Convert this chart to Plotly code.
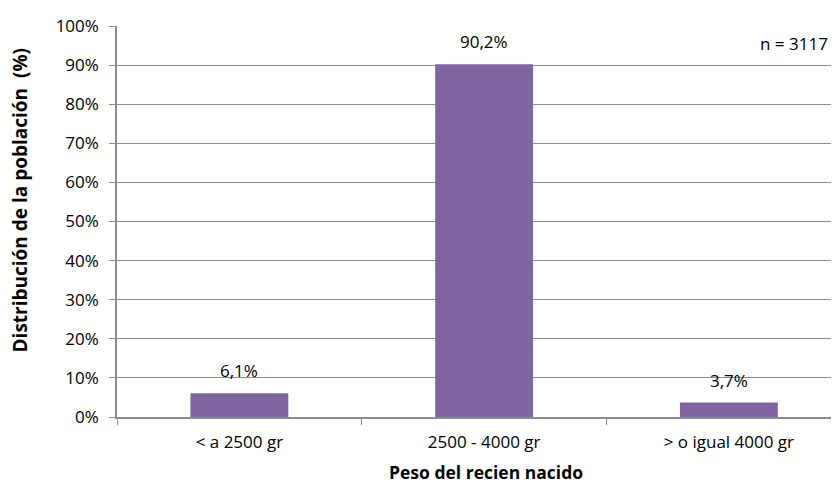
import plotly.graph_objects as go

categories = ["< a 2500 gr", "2500 - 4000 gr", "> o igual 4000 gr"]
values = [6.1, 90.2, 3.7]
labels = [f"{v:.1f}".replace(".", ",") + "%" for v in values]
y_ticks = list(range(0, 101, 10))
y_tick_labels = [f"{t}%" for t in y_ticks]

FONT = "Open Sans, Calibri, Carlito, sans-serif"
FS = 17
GRID = "#8c8c8c"
BAR = "#8064A2"

fig = go.Figure()
fig.add_trace(go.Bar(
    x=categories, y=values,
    marker=dict(color=BAR, line=dict(width=0)),
    width=0.4,
    hoverinfo="skip",
))

for c, v, t in zip(categories, values, labels):
    fig.add_annotation(x=c, y=v, text=t, showarrow=False,
                       yanchor="bottom", yshift=9,
                       font=dict(family=FONT, size=FS, color="#000"))

fig.add_annotation(xref="paper", yref="y", x=0.9875, y=95.6, text="n = 3117",
                   showarrow=False, xanchor="right", yanchor="middle",
                   font=dict(family=FONT, size=FS, color="#000"))

# axis titles
fig.add_annotation(xref="paper", yref="paper", x=0.511, y=-0.1407,
                   text="<b>Peso del recien nacido</b>", showarrow=False,
                   xanchor="center", yanchor="middle",
                   font=dict(family=FONT, size=17.5, color="#000"))
fig.add_annotation(xref="paper", yref="paper", x=-0.1337, y=0.555,
                   text="<b>Distribución de la población  (%)</b>", showarrow=False,
                   textangle=-90, xanchor="center", yanchor="middle",
                   font=dict(family=FONT, size=19, color="#000"))

fig.update_layout(
    width=831, height=477,
    margin=dict(l=109, r=0, t=18, b=68),
    paper_bgcolor="white", plot_bgcolor="white",
    showlegend=False,
    font=dict(family=FONT, size=FS, color="#000"),
    xaxis=dict(
        type="category",
        range=[-0.5, 2.45],
        showline=True, linecolor=GRID, linewidth=1.5,
        ticks="outside", tickson="boundaries", ticklen=6, tickcolor=GRID,
        ticklabelstandoff=9,
        showgrid=False,
        automargin=False,
        tickfont=dict(family=FONT, size=FS),
    ),
    yaxis=dict(
        range=[0, 100],
        tickvals=y_ticks, ticktext=y_tick_labels,
        showline=True, linecolor=GRID, linewidth=1.5,
        ticks="outside", ticklen=6, tickcolor=GRID,
        ticklabelstandoff=7,
        showgrid=True, gridcolor=GRID, gridwidth=1.2,
        zeroline=False,
        automargin=False,
        tickfont=dict(family=FONT, size=FS),
    ),
)

fig.write_html("out.html")
